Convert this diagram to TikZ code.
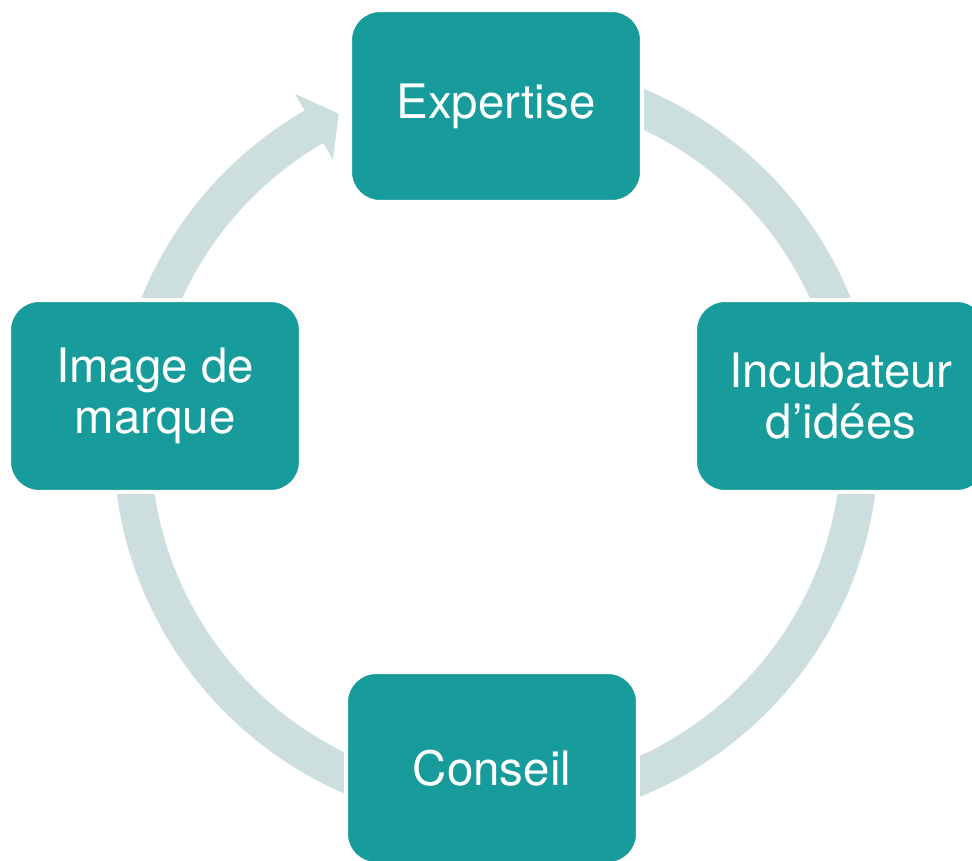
\documentclass[tikz,border=0pt]{standalone}
\usepackage{fontspec}
\setmainfont{TeX Gyre Heros}
\definecolor{boxteal}{HTML}{179C9B}
\definecolor{ringgrey}{HTML}{CCDFDE}
\tikzset{
  cyclebox/.style={rectangle, rounded corners=0.6cm, fill=boxteal, draw=white,
    line width=0.08cm, minimum width=5.84cm, minimum height=3.84cm, inner sep=0pt,
    text=white, align=center, font=\fontsize{27}{29}\selectfont},
  ring/.style={draw=ringgrey, line width=0.75cm}
}
\begin{document}
\begin{tikzpicture}[x=0.02cm, y=0.02cm]
      \useasboundingbox (0,0) rectangle (972,860);
      \coordinate (c) at (496,418);
      \begin{scope}[shift={(c)}]
        \draw[ring] (90:364) arc[start angle=90, end angle=-240, radius=364];
        \fill[ringgrey] (120:326) -- (115.6:364) -- (120:402) -- cycle;
      \end{scope}
      \draw
        (496,754) node[cyclebox] (expertise){Expertise}
        (841,464) node[cyclebox] (incubateur){Incubateur\\d’idées}
        (492,92) node[cyclebox] (conseil){Conseil}
        (155,464) node[cyclebox] (image){Image de\\marque};
    \end{tikzpicture}
\end{document}
